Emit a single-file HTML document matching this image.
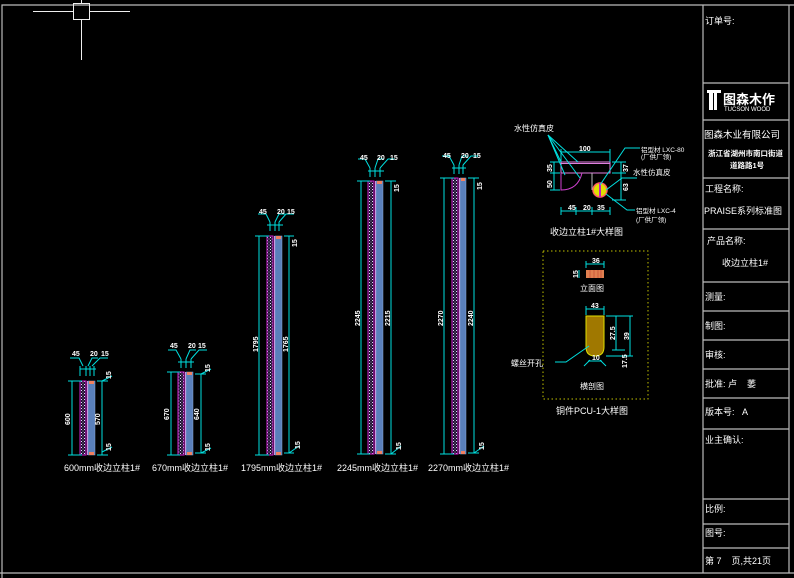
<!DOCTYPE html>
<html><head><meta charset="utf-8"><style>
html,body{margin:0;padding:0;background:#000;width:794px;height:578px;overflow:hidden}
svg{display:block}
text{font-family:"Liberation Sans","Noto Sans CJK SC",sans-serif;fill:#fff}
.s{font-size:9px}
.d{font-size:7px;font-weight:bold}
</style></head><body>
<svg width="794" height="578" viewBox="0 0 794 578" xmlns="http://www.w3.org/2000/svg">
<defs>
<pattern id="hp" width="3" height="3" patternUnits="userSpaceOnUse">
<rect width="3" height="3" fill="#201030"/><rect x="0" y="0" width="1" height="1" fill="#e0e0ff"/><rect x="1.5" y="1.5" width="1" height="1" fill="#a0a0c0"/>
</pattern>
</defs>
<!-- frame -->
<g stroke="#bbb" stroke-width="1.2" fill="none">
<polyline points="2,578 2,5 794,5"/>
<line x1="0" y1="573" x2="794" y2="573"/>
<line x1="703" y1="5" x2="703" y2="573"/>
<line x1="789" y1="5" x2="789" y2="573"/>
<line x1="703" y1="83" x2="789" y2="83"/>
<line x1="703" y1="120" x2="789" y2="120"/>
<line x1="703" y1="178" x2="789" y2="178"/>
<line x1="703" y1="229" x2="789" y2="229"/>
<line x1="703" y1="282" x2="789" y2="282"/>
<line x1="703" y1="311" x2="789" y2="311"/>
<line x1="703" y1="340" x2="789" y2="340"/>
<line x1="703" y1="369" x2="789" y2="369"/>
<line x1="703" y1="398" x2="789" y2="398"/>
<line x1="703" y1="429" x2="789" y2="429"/>
<line x1="703" y1="499" x2="789" y2="499"/>
<line x1="703" y1="524" x2="789" y2="524"/>
<line x1="703" y1="548" x2="789" y2="548"/>
</g>
<!-- crosshair -->
<g stroke="#eee" stroke-width="1" fill="none">
<rect x="73.5" y="3.5" width="16" height="16"/>
<line x1="33" y1="11.5" x2="73" y2="11.5"/><line x1="90" y1="11.5" x2="130" y2="11.5"/>
<line x1="81.5" y1="20" x2="81.5" y2="60"/><line x1="81.5" y1="0" x2="81.5" y2="3"/>
</g>
<!-- title block text -->
<text x="705" y="24" class="s">订单号:</text>
<rect x="709" y="90" width="4" height="20" fill="#fff"/><rect x="714" y="93" width="3" height="17" fill="#fff"/><rect x="707" y="90" width="14" height="3" fill="#fff"/>
<text x="723" y="104" style="font-size:13px;font-weight:bold">图森木作</text>
<text x="724" y="111" style="font-size:6px">TUCSON WOOD</text>
<text x="704" y="138" style="font-size:9.5px">图森木业有限公司</text>
<text x="708" y="156" style="font-size:7.5px;font-weight:bold">浙江省湖州市南口街道</text>
<text x="730" y="168" style="font-size:7.5px;font-weight:bold">道路路1号</text>
<text x="705" y="192" class="s">工程名称:</text>
<text x="704" y="214" style="font-size:9px">PRAISE系列标准图</text>
<text x="707" y="244" class="s">产品名称:</text>
<text x="722" y="266" class="s">收边立柱1#</text>
<text x="705" y="300" class="s">测量:</text>
<text x="705" y="329" class="s">制图:</text>
<text x="705" y="358" class="s">审核:</text>
<text x="705" y="387" class="s">批准: 卢&#160;&#160;&#160;&#160;萎</text>
<text x="705" y="415" class="s">版本号:&#160;&#160;&#160;A</text>
<text x="705" y="443" class="s">业主确认:</text>
<text x="705" y="512" class="s">比例:</text>
<text x="705" y="536" class="s">图号:</text>
<text x="705" y="564" class="s">第 7&#160;&#160;&#160;&#160;页,共21页</text>

<!-- columns -->
<g id="cols">
<!-- col1 -->
<g>
<rect x="80" y="381" width="6" height="74" fill="url(#hp)" stroke="#d020d0"/>
<line x1="87.5" y1="381" x2="87.5" y2="455" stroke="#e090e0"/>
<rect x="88" y="381" width="7" height="74" fill="#5a80bb" stroke="#8aa8d8" stroke-width=".5"/>
<rect x="89" y="381" width="5" height="3" fill="#f08060"/><rect x="89" y="452" width="5" height="3" fill="#f08060"/>
<g stroke="#00e0e0" fill="none" stroke-width="1">
<line x1="72" y1="381" x2="72" y2="455"/><line x1="102" y1="381" x2="102" y2="455"/>
<line x1="68" y1="381" x2="82" y2="381"/><line x1="68" y1="455" x2="82" y2="455"/>
<line x1="97" y1="381" x2="108" y2="381"/><line x1="97" y1="455" x2="108" y2="455"/>
<line x1="80" y1="369" x2="96" y2="369"/><line x1="80" y1="366" x2="80" y2="376"/><line x1="86" y1="366" x2="86" y2="376"/><line x1="90" y1="366" x2="90" y2="376"/><line x1="94" y1="366" x2="94" y2="376"/>
<polyline points="83,366 79,358 70,358"/><polyline points="88,366 92,358 98,358"/><polyline points="92,366 100,358 108,358"/>
<line x1="102" y1="381" x2="112" y2="376"/><line x1="102" y1="452" x2="112" y2="447"/>
</g>
<text class="d" x="72" y="356">45</text><text class="d" x="90" y="356">20</text><text class="d" x="101" y="356">15</text>
<text class="d" transform="translate(70,425) rotate(-90)">600</text><text class="d" transform="translate(100,425) rotate(-90)">570</text>
<text class="d" transform="translate(111,379) rotate(-90)">15</text><text class="d" transform="translate(111,451) rotate(-90)">15</text>
<text x="64" y="471" class="s">600mm收边立柱1#</text>
</g>
<!-- col2 -->
<g>
<rect x="178" y="372" width="6" height="83" fill="url(#hp)" stroke="#d020d0"/>
<line x1="185.5" y1="372" x2="185.5" y2="455" stroke="#e090e0"/>
<rect x="186" y="372" width="7" height="83" fill="#5a80bb" stroke="#8aa8d8" stroke-width=".5"/>
<rect x="187" y="372" width="5" height="3" fill="#f08060"/><rect x="187" y="452" width="5" height="3" fill="#f08060"/>
<g stroke="#00e0e0" fill="none">
<line x1="171" y1="372" x2="171" y2="455"/><line x1="201" y1="374" x2="201" y2="453"/>
<line x1="167" y1="372" x2="180" y2="372"/><line x1="167" y1="455" x2="180" y2="455"/>
<line x1="195" y1="374" x2="206" y2="374"/><line x1="195" y1="453" x2="206" y2="453"/>
<line x1="178" y1="362" x2="194" y2="362"/><line x1="181" y1="359" x2="181" y2="368"/><line x1="186" y1="359" x2="186" y2="368"/><line x1="191" y1="359" x2="191" y2="368"/>
<polyline points="181,359 176,350 168,350"/><polyline points="186,359 190,350 196,350"/><polyline points="191,359 199,350 207,350"/>
<line x1="201" y1="374" x2="211" y2="369"/><line x1="201" y1="453" x2="211" y2="448"/>
</g>
<text class="d" x="170" y="348">45</text><text class="d" x="188" y="348">20</text><text class="d" x="198" y="348">15</text>
<text class="d" transform="translate(169,420) rotate(-90)">670</text><text class="d" transform="translate(199,420) rotate(-90)">640</text>
<text class="d" transform="translate(210,372) rotate(-90)">15</text><text class="d" transform="translate(210,451) rotate(-90)">15</text>
<text x="152" y="471" class="s">670mm收边立柱1#</text>
</g>
<!-- col3 -->
<g>
<rect x="267" y="236" width="6" height="219" fill="url(#hp)" stroke="#d020d0"/>
<line x1="274.5" y1="236" x2="274.5" y2="455" stroke="#e090e0"/>
<rect x="275" y="236" width="7" height="219" fill="#5a80bb" stroke="#8aa8d8" stroke-width=".5"/>
<rect x="276" y="236" width="5" height="3" fill="#f08060"/><rect x="276" y="452" width="5" height="3" fill="#f08060"/>
<g stroke="#00e0e0" fill="none">
<line x1="259" y1="236" x2="259" y2="455"/><line x1="289" y1="236" x2="289" y2="453"/>
<line x1="255" y1="236" x2="269" y2="236"/><line x1="255" y1="455" x2="269" y2="455"/>
<line x1="284" y1="236" x2="294" y2="236"/><line x1="284" y1="453" x2="294" y2="453"/>
<line x1="267" y1="225" x2="283" y2="225"/><line x1="270" y1="222" x2="270" y2="231"/><line x1="275" y1="222" x2="275" y2="231"/><line x1="279" y1="222" x2="279" y2="231"/>
<polyline points="270,222 266,214 258,214"/><polyline points="275,222 279,214 285,214"/><polyline points="279,222 286,214 294,214"/>
<line x1="289" y1="453" x2="299" y2="446"/>
</g>
<text class="d" x="259" y="214">45</text><text class="d" x="277" y="214">20</text><text class="d" x="287" y="214">15</text>
<text class="d" transform="translate(258,352) rotate(-90)">1795</text><text class="d" transform="translate(288,352) rotate(-90)">1765</text>
<text class="d" transform="translate(297,247) rotate(-90)">15</text><text class="d" transform="translate(300,449) rotate(-90)">15</text>
<text x="241" y="471" class="s">1795mm收边立柱1#</text>
</g>
<!-- col4 -->
<g>
<rect x="368" y="181" width="6" height="273" fill="url(#hp)" stroke="#d020d0"/>
<line x1="375.5" y1="181" x2="375.5" y2="454" stroke="#e090e0"/>
<rect x="376" y="181" width="7" height="273" fill="#5a80bb" stroke="#8aa8d8" stroke-width=".5"/>
<rect x="377" y="181" width="5" height="3" fill="#f08060"/><rect x="377" y="451" width="5" height="3" fill="#f08060"/>
<g stroke="#00e0e0" fill="none">
<line x1="361" y1="181" x2="361" y2="454"/><line x1="391" y1="181" x2="391" y2="454"/>
<line x1="357" y1="181" x2="370" y2="181"/><line x1="357" y1="454" x2="370" y2="454"/>
<line x1="385" y1="181" x2="396" y2="181"/><line x1="385" y1="454" x2="396" y2="454"/>
<line x1="368" y1="171" x2="384" y2="171"/><line x1="370" y1="168" x2="370" y2="177"/><line x1="375" y1="168" x2="375" y2="177"/><line x1="380" y1="168" x2="380" y2="177"/>
<polyline points="370,168 365,159 358,159"/><polyline points="375,168 378,159 384,159"/><polyline points="380,168 388,159 395,159"/>
<line x1="391" y1="454" x2="401" y2="446"/>
</g>
<text class="d" x="360" y="160">45</text><text class="d" x="377" y="160">20</text><text class="d" x="390" y="160">15</text>
<text class="d" transform="translate(360,326) rotate(-90)">2245</text><text class="d" transform="translate(390,326) rotate(-90)">2215</text>
<text class="d" transform="translate(399,192) rotate(-90)">15</text><text class="d" transform="translate(401,450) rotate(-90)">15</text>
<text x="337" y="471" class="s">2245mm收边立柱1#</text>
</g>
<!-- col5 -->
<g>
<rect x="452" y="178" width="6" height="276" fill="url(#hp)" stroke="#d020d0"/>
<line x1="459.5" y1="178" x2="459.5" y2="454" stroke="#e090e0"/>
<rect x="460" y="178" width="6" height="276" fill="#5a80bb" stroke="#8aa8d8" stroke-width=".5"/>
<rect x="461" y="178" width="4" height="3" fill="#f08060"/><rect x="461" y="451" width="4" height="3" fill="#f08060"/>
<g stroke="#00e0e0" fill="none">
<line x1="444" y1="178" x2="444" y2="454"/><line x1="474" y1="178" x2="474" y2="453"/>
<line x1="440" y1="178" x2="454" y2="178"/><line x1="440" y1="454" x2="454" y2="454"/>
<line x1="468" y1="178" x2="479" y2="178"/><line x1="468" y1="453" x2="479" y2="453"/>
<line x1="452" y1="168" x2="466" y2="168"/><line x1="454" y1="165" x2="454" y2="174"/><line x1="459" y1="165" x2="459" y2="174"/><line x1="463" y1="165" x2="463" y2="174"/>
<polyline points="454,165 449,156 442,156"/><polyline points="459,165 462,156 468,156"/><polyline points="463,165 471,156 478,156"/>
<line x1="474" y1="453" x2="484" y2="446"/>
</g>
<text class="d" x="443" y="158">45</text><text class="d" x="461" y="158">20</text><text class="d" x="473" y="158">15</text>
<text class="d" transform="translate(443,326) rotate(-90)">2270</text><text class="d" transform="translate(473,326) rotate(-90)">2240</text>
<text class="d" transform="translate(482,190) rotate(-90)">15</text><text class="d" transform="translate(484,450) rotate(-90)">15</text>
<text x="428" y="471" class="s">2270mm收边立柱1#</text>
</g>
</g>

<!-- detail 1 -->
<g fill="none">
<rect x="561" y="162" width="49" height="11" stroke="#e080e0"/>
<line x1="561" y1="163.5" x2="610" y2="163.5" stroke="#e080e0"/>
<path d="M561,173 L561,190 Q578,190 582,173" stroke="#d040d0"/>
<line x1="592" y1="173" x2="592" y2="190" stroke="#bbb"/>
<circle cx="600" cy="190" r="7" fill="#e0e000" stroke="#ff6060" stroke-width="1.5"/>
<line x1="600" y1="183" x2="600" y2="197" stroke="#c020c0" stroke-width="2"/>
<g stroke="#00e0e0">
<line x1="561" y1="152" x2="610" y2="152"/><line x1="561" y1="149" x2="561" y2="162"/><line x1="610" y1="149" x2="610" y2="162"/>
<line x1="554" y1="162" x2="554" y2="190"/><line x1="550" y1="162" x2="560" y2="162"/><line x1="550" y1="173" x2="560" y2="173"/><line x1="550" y1="190" x2="560" y2="190"/>
<line x1="621" y1="162" x2="621" y2="200"/><line x1="612" y1="162" x2="626" y2="162"/><line x1="612" y1="173" x2="626" y2="173"/><line x1="612" y1="200" x2="626" y2="200"/>
<line x1="561" y1="211" x2="610" y2="211"/><line x1="561" y1="207" x2="561" y2="215"/><line x1="576" y1="207" x2="576" y2="215"/><line x1="592" y1="207" x2="592" y2="215"/><line x1="610" y1="207" x2="610" y2="215"/>
<polyline points="548,135 561,162"/><polyline points="548,135 578,162"/><polyline points="548,135 565,175"/><polyline points="548,135 580,178"/>
<polyline points="600,185 625,148 640,148"/><polyline points="606,190 622,178 637,178"/><polyline points="606,194 627,210 635,210"/>
</g>
</g>
<text style="font-size:8px" x="514" y="131">水性仿真皮</text>
<text class="d" x="579" y="151">100</text>
<text class="d" transform="translate(552,172) rotate(-90)">35</text><text class="d" transform="translate(552,188) rotate(-90)">50</text>
<text class="d" transform="translate(628,172) rotate(-90)">37</text><text class="d" transform="translate(628,191) rotate(-90)">63</text>
<text class="d" x="568" y="210">45</text><text class="d" x="583" y="210">20</text><text class="d" x="597" y="210">35</text>
<text style="font-size:6.5px" x="641" y="152">铝型材 LXC-80</text><text style="font-size:6.5px" x="641" y="159">(厂供厂领)</text>
<text style="font-size:7.5px" x="633" y="175">水性仿真皮</text>
<text style="font-size:6.5px" x="636" y="213">铝型材 LXC-4</text><text style="font-size:6.5px" x="636" y="222">(厂供厂领)</text>
<text x="550" y="235" class="s">收边立柱1#大样图</text>

<!-- detail 2 -->
<rect x="543" y="251" width="105" height="148" fill="none" stroke="#c0c000" stroke-dasharray="1.5,2.5"/>
<rect x="586" y="270" width="18" height="8" fill="#e08050"/>
<g stroke="#c04030" stroke-width=".6"><line x1="590" y1="270" x2="590" y2="278"/><line x1="594" y1="270" x2="594" y2="278"/><line x1="598" y1="270" x2="598" y2="278"/><line x1="601" y1="270" x2="601" y2="278"/></g>
<path d="M586,316 L604,316 L604,347 Q604,356 595,356 Q586,356 586,347 Z" fill="#a07800" stroke="#e0e000"/>
<g stroke="#00e0e0" fill="none">
<line x1="586" y1="264" x2="604" y2="264"/><line x1="586" y1="261" x2="586" y2="268"/><line x1="604" y1="261" x2="604" y2="268"/>
<line x1="579" y1="270" x2="579" y2="278"/>
<line x1="586" y1="309" x2="604" y2="309"/><line x1="586" y1="306" x2="586" y2="315"/><line x1="604" y1="306" x2="604" y2="315"/>
<line x1="616" y1="316" x2="616" y2="350"/><line x1="630" y1="316" x2="630" y2="356"/>
<line x1="606" y1="316" x2="633" y2="316"/><line x1="606" y1="356" x2="633" y2="356"/><line x1="612" y1="350" x2="625" y2="350"/>
<line x1="588" y1="361" x2="602" y2="361"/><line x1="584" y1="366" x2="590" y2="360"/><line x1="606" y1="366" x2="600" y2="360"/>
<polyline points="555,362 566,362 589,346"/>
</g>
<text class="d" x="592" y="263">36</text><text class="d" transform="translate(578,278) rotate(-90)">15</text>
<text style="font-size:8px" x="580" y="291">立面图</text>
<text class="d" x="591" y="308">43</text>
<text class="d" transform="translate(615,340) rotate(-90)">27.5</text><text class="d" transform="translate(629,340) rotate(-90)">39</text>
<text class="d" transform="translate(627,368) rotate(-90)">17.5</text>
<text class="d" x="592" y="360">10</text>
<text style="font-size:8px" x="511" y="366">螺丝开孔</text>
<text style="font-size:8px" x="580" y="389">横剖图</text>
<text x="556" y="414" class="s">铜件PCU-1大样图</text>
</svg>
</body></html>
